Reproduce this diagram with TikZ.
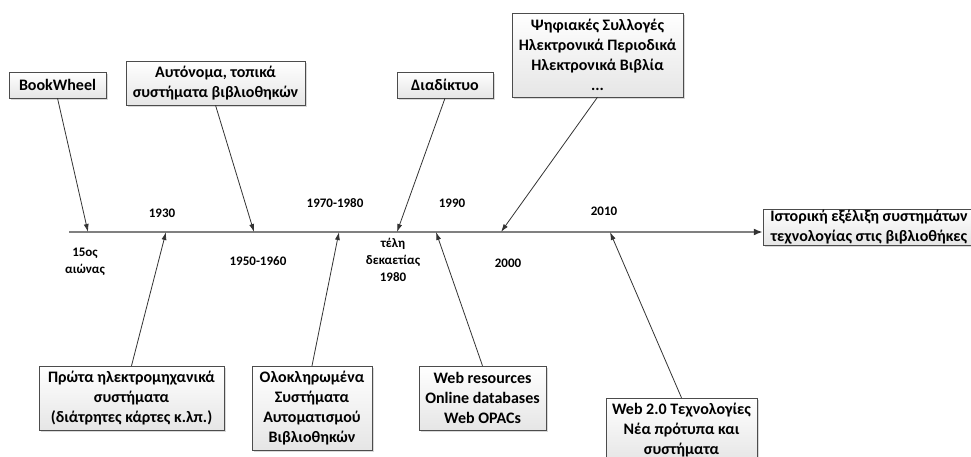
\documentclass[tikz,border=0pt]{standalone}
\usepackage{fontspec}
\setmainfont{Carlito}
\usetikzlibrary{arrows.meta,shadows}

\tikzset{
  event/.style={draw=gray!60!black, top color=white, bottom color=gray!20,
    drop shadow={shadow xshift=2pt, shadow yshift=-2pt, opacity=0.3, fill=gray},
    align=center, inner sep=0pt, font=\fontsize{16}{20}\selectfont\bfseries},
  year/.style={align=center, font=\fontsize{13}{17}\selectfont\bfseries},
  link/.style={draw=gray!40!black, line width=0.8pt, -{Latex[length=8pt,width=5pt]}},
}

\begin{document}
\begin{tikzpicture}[x=1pt,y=-1pt]
  \useasboundingbox (0,0) rectangle (971,457);

  % Timeline
  \coordinate (start) at (69,232);
  \node[event, minimum width=212pt, minimum height=36pt] (goal) at (869,227)
    {Ιστορική εξέλιξη συστημάτων\\τεχνολογίας στις βιβλιοθήκες};
  \draw[line width=2pt, black!50, -{Latex[length=9pt,width=7pt,color=gray!40!black]}] (start) -- (goal.west |- start);

  % Points on the timeline
  \coordinate (p1) at (88,232);
  \coordinate (p2) at (166,232);
  \coordinate (p3) at (254,232);
  \coordinate (p4) at (339,232);
  \coordinate (p5) at (397,232);
  \coordinate (p6) at (436,232);
  \coordinate (p7) at (501,232);
  \coordinate (p8) at (610,232);

  % Years
  \node[year] (y15) at (85,262) {15ος\\αιώνας};
  \node[year] (y1930) at (162,213) {1930};
  \node[year] (y1950) at (258,261) {1950-1960};
  \node[year] (y1970) at (335,203) {1970-1980};
  \node[year] (y1980) at (393,260) {τέλη\\δεκαετίας\\1980};
  \node[year] (y1990) at (452,203) {1990};
  \node[year] (y2000) at (508,263) {2000};
  \node[year] (y2010) at (604,211) {2010};

  % Boxes above the line
  \node[event, minimum width=97pt, minimum height=26pt] (wheel) at (57.5,85) {BookWheel};
  \node[event, minimum width=179pt, minimum height=44pt] (local) at (215.5,83)
    {Αυτόνομα, τοπικά\\συστήματα βιβλιοθηκών};
  \node[event, minimum width=96pt, minimum height=26pt] (net) at (445,85) {Διαδίκτυο};
  \node[event, minimum width=171pt, minimum height=84pt] (digital) at (597.5,55)
    {Ψηφιακές Συλλογές\\Ηλεκτρονικά Περιοδικά\\Ηλεκτρονικά Βιβλία\\...};

  % Boxes below the line
  \node[event, minimum width=185pt, minimum height=64pt] (punch) at (131.5,398)
    {Πρώτα ηλεκτρομηχανικά\\συστήματα\\(διάτρητες κάρτες κ.λπ.)};
  \node[event, minimum width=120pt, minimum height=84pt] (integ) at (312,408)
    {Ολοκληρωμένα\\Συστήματα\\Αυτοματισμού\\Βιβλιοθηκών};
  \node[event, minimum width=127pt, minimum height=64pt] (web) at (482.5,398)
    {Web resources\\Online databases\\Web OPACs};
  \node[event, minimum width=151pt, minimum height=64pt] (webtwo) at (681.5,430)
    {Web 2.0 Τεχνολογίες\\Νέα πρότυπα και\\συστήματα};

  % Arrows to the timeline
  \draw[link] (wheel.south) -- (p1);
  \draw[link] (punch.north) -- (p2);
  \draw[link] (local.south) -- (p3);
  \draw[link] (integ.north) -- (p4);
  \draw[link] (net.south) -- (p5);
  \draw[link] (web.north) -- (p6);
  \draw[link] (digital.south) -- (p7);
  \draw[link] (webtwo.north) -- (p8);
\end{tikzpicture}
\end{document}
